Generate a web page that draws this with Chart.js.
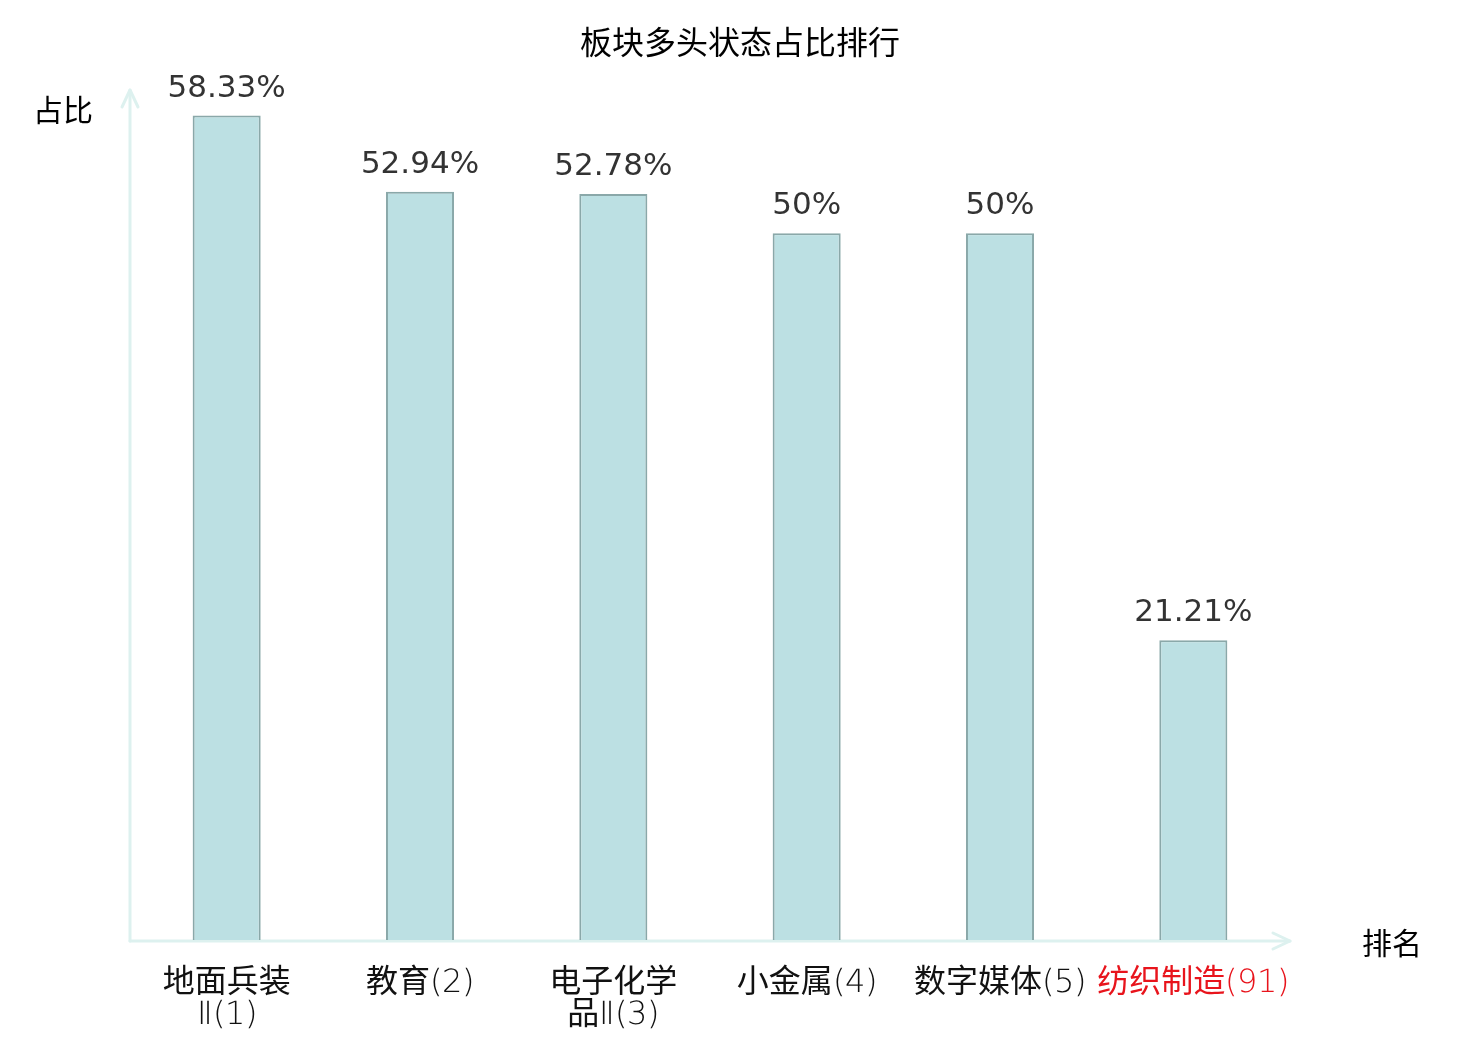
<!DOCTYPE html>
<html>
<head>
<meta charset="utf-8">
<script src="https://cdn.jsdelivr.net/npm/chart.js@4/dist/chart.umd.min.js"></script>
<style>
    @font-face {
        font-family: 'DejaVuThin';
        src: local('DejaVu Sans ExtraLight'), local('DejaVuSans-ExtraLight');
    }
    html, body { margin: 0; padding: 0; background: #ffffff; }
    #chart { display: block; }
</style>
</head>
<body>
<canvas id="chart" width="1480" height="1040"></canvas>
<script>
// sector data
const chartTitle = '板块多头状态占比排行';
const categories = [
    ['地面兵装', 'Ⅱ(1)'],
    '教育(2)',
    ['电子化学', '品Ⅱ(3)'],
    '小金属(4)',
    '数字媒体(5)',
    '纺织制造(91)'
];
const shares = [58.33, 52.94, 52.78, 50, 50, 21.21];
const shareLabels = ['58.33%', '52.94%', '52.78%', '50%', '50%', '21.21%'];
const highlightIndex = 5;

const AXIS_COLOR = '#ddf1ef';
const CJK = '"Noto Sans CJK SC", "DejaVu Sans", sans-serif';
// thin latin digits, regular CJK glyphs through fallback
const TICK_FONT = '"DejaVuThin", "Noto Sans CJK SC", sans-serif';

// draws the title, arrowed axes, axis names and value labels
const decorPlugin = {
    id: 'decor',
    beforeDatasetsDraw(chart) {
        const { ctx, chartArea, width } = chart;
        const left = chartArea.left;
        const bottom = chartArea.bottom + 1;
        ctx.save();

        ctx.fillStyle = '#000000';
        ctx.font = '32px ' + CJK;
        ctx.textAlign = 'center';
        ctx.textBaseline = 'middle';
        ctx.fillText(chartTitle, width / 2, 42);

        ctx.strokeStyle = AXIS_COLOR;
        ctx.lineWidth = 3;
        ctx.lineCap = 'round';
        ctx.lineJoin = 'round';

        // y axis
        ctx.beginPath();
        ctx.moveTo(left, bottom);
        ctx.lineTo(left, chartArea.top - 2);
        ctx.stroke();
        ctx.beginPath();
        ctx.moveTo(left - 8, chartArea.top + 15);
        ctx.lineTo(left, chartArea.top - 2);
        ctx.lineTo(left + 8, chartArea.top + 15);
        ctx.stroke();

        // x axis
        ctx.beginPath();
        ctx.moveTo(left, bottom);
        ctx.lineTo(chartArea.right, bottom);
        ctx.stroke();
        ctx.beginPath();
        ctx.moveTo(chartArea.right - 17, bottom - 8);
        ctx.lineTo(chartArea.right, bottom);
        ctx.lineTo(chartArea.right - 17, bottom + 8);
        ctx.stroke();

        // axis names
        ctx.font = '30px ' + CJK;
        ctx.fillText('占比', 63, chartArea.top + 18);
        ctx.fillText('排名', 1392, bottom + 2);
        ctx.restore();
    },
    afterDatasetsDraw(chart) {
        const { ctx } = chart;
        const meta = chart.getDatasetMeta(0);
        ctx.save();
        ctx.fillStyle = '#333333';
        ctx.font = '31px "DejaVu Sans", sans-serif';
        ctx.textAlign = 'center';
        ctx.textBaseline = 'alphabetic';
        meta.data.forEach((bar, i) => {
            ctx.fillText(shareLabels[i], bar.x, bar.y - 19);
        });
        ctx.restore();
    }
};

function drawChart() {
    new Chart(document.getElementById('chart').getContext('2d'), {
        type: 'bar',
        data: {
            labels: categories,
            datasets: [{
                data: shares,
                backgroundColor: '#bce0e3',
                borderColor: '#8aa8a9',
                borderWidth: 2,
                barPercentage: 0.352,
                categoryPercentage: 1.0
            }]
        },
        options: {
            responsive: false,
            devicePixelRatio: 1,
            animation: false,
            layout: {
                padding: { left: 130, right: 190, top: 92, bottom: -20 }
            },
            plugins: {
                legend: { display: false },
                tooltip: { enabled: false },
                title: { display: false }
            },
            scales: {
                x: {
                    grid: { display: false, drawTicks: false },
                    border: { display: false },
                    ticks: {
                        autoSkip: false,
                        maxRotation: 0,
                        minRotation: 0,
                        padding: 28,
                        font: { family: TICK_FONT, size: 32, lineHeight: 1.0 },
                        color: (c) => c.index === highlightIndex ? '#e8141c' : '#111111'
                    }
                },
                y: {
                    display: false,
                    min: 0,
                    max: 60
                }
            }
        },
        plugins: [decorPlugin]
    });
}

document.fonts.load('32px DejaVuThin', '(1)').then(drawChart, drawChart);
</script>
</body>
</html>
